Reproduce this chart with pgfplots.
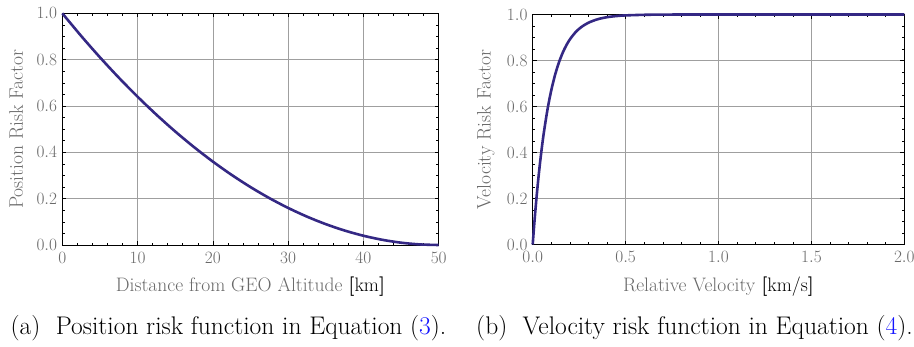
\documentclass[border=0pt]{standalone}
\usepackage{fontspec}
\usepackage{pgfplots}
\pgfplotsset{compat=1.18}
\definecolor{curve}{RGB}{52,40,132}
\definecolor{tickgray}{RGB}{105,105,105}
\definecolor{refblue}{RGB}{20,20,255}
\pgfplotstableread{
x y
0 1
2.5 0.9025
5 0.81
7.5 0.7225
10 0.64
12.5 0.5625
15 0.49
17.5 0.4225
20 0.36
22.5 0.3025
25 0.25
27.5 0.2025
30 0.16
32.5 0.1225
35 0.09
37.5 0.0625
40 0.04
42.5 0.0225
45 0.01
47.5 0.0025
50 0
}\posdata
\pgfplotstableread{
x y
0 0
0.01 0.1052
0.02 0.1993
0.03 0.2835
0.04 0.3588
0.05 0.4262
0.06 0.4866
0.08 0.5889
0.10 0.6708
0.12 0.7364
0.14 0.7889
0.16 0.8310
0.18 0.8647
0.20 0.8916
0.23 0.9224
0.26 0.9444
0.30 0.9643
0.35 0.9795
0.40 0.9883
0.45 0.9933
0.50 0.9961
0.60 0.9987
0.70 0.9996
0.80 0.9999
1.00 1.0
1.50 1.0
2.00 1.0
}\veldata
\pgfplotsset{riskstyle/.style={
  scale only axis,
  clip=false,
  axis line style={black, line width=0.6pt},
  tick align=inside,
  ticklabel style={font=\fontsize{17.5}{20}\selectfont, text=tickgray, inner sep=0pt},
  xticklabel style={yshift=-7pt},
  label style={font=\fontsize{19.5}{23}\selectfont, text=tickgray},
  grid=major,
  major grid style={color=gray!75, line width=0.6pt},
  major tick length=4pt,
  minor tick length=2.5pt,
  tick style={black, line width=0.5pt},
  ymin=0, ymax=1,
  ytick={0,0.2,0.4,0.6,0.8,1.0},
  minor y tick num=3,
  yticklabel style={xshift=-5pt, /pgf/number format/.cd, fixed, fixed zerofill, precision=1},
}}
\begin{document}
\begin{tikzpicture}
\useasboundingbox (0,0) rectangle (914pt,-346pt);
\begin{axis}[riskstyle,
  at={(62.3pt,-245pt)}, anchor=south west,
  width=376.4pt, height=231.7pt,
  xmin=0, xmax=50,
  xtick={0,10,20,30,40,50},
  minor x tick num=4,
  xlabel={Distance from GEO Altitude \textcolor{black}{\textbf{[}km\textbf{]}}},
  ylabel={Position Risk Factor},
  xlabel style={at={(axis description cs:0.5,-0.181)}, anchor=center},
  ylabel style={at={(axis description cs:-0.122,0.5)}, anchor=center},
]
\addplot[curve, line width=2.6pt, smooth] table[x=x,y=y] {\posdata};
\end{axis}
\begin{axis}[riskstyle,
  at={(532.7pt,-244.5pt)}, anchor=south west,
  width=371.6pt, height=230pt,
  xmin=0, xmax=2,
  xtick={0,0.5,1.0,1.5,2.0},
  minor x tick num=4,
  xticklabel style={/pgf/number format/.cd, fixed, fixed zerofill, precision=1},
  xlabel={Relative Velocity \textcolor{black}{\textbf{[}km/s\textbf{]}}},
  ylabel={Velocity Risk Factor},
  xlabel style={at={(axis description cs:0.5,-0.183)}, anchor=center},
  ylabel style={at={(axis description cs:-0.126,0.5)}, anchor=center},
]
\addplot[curve, line width=2.6pt, smooth] table[x=x,y=y] {\veldata};
\end{axis}
\node[anchor=base, font=\fontsize{25.5}{30}\selectfont] at (228.5pt,-334pt) {(a)\ \ Position risk function in Equation (\textcolor{refblue}{3}).};
\node[anchor=base, font=\fontsize{25.5}{30}\selectfont] at (694.5pt,-334pt) {(b)\ \ Velocity risk function in Equation (\textcolor{refblue}{4}).};
\end{tikzpicture}
\end{document}
